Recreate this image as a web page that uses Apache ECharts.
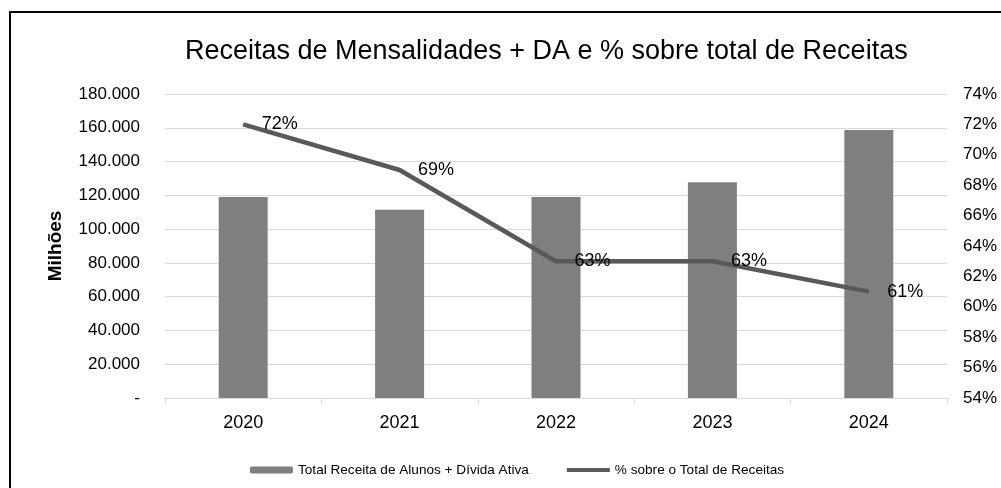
<!DOCTYPE html>
<html>
<head>
<meta charset="utf-8">
<script src="https://cdn.jsdelivr.net/npm/echarts@6/dist/echarts.min.js"></script>
<style>
  html, body { margin: 0; padding: 0; background: #fff; }
</style>
</head>
<body>
<div id="main" style="width:1001px;height:488px;"></div>
<script>
// dados
var anos = ['2020', '2021', '2022', '2023', '2024'];
var receitaAlunos = [119000, 111500, 119000, 127800, 158700];   // Milhões
var pctReceitas = [72, 69, 63, 63, 61];                          // %
var nomeBarra = 'Total Receita de Alunos + Dívida Ativa';
var nomeLinha = '% sobre o Total de Receitas';

var fonte = '"Liberation Sans", Arial, sans-serif';

function formatoBR(v) {
  if (v === 0) return '-';
  return String(v).replace(/\B(?=(\d{3})+(?!\d))/g, '.');
}

var myChart = echarts.init(document.getElementById('main'));
var option = {
  animation: false,
  backgroundColor: '#fff',
  title: {
    text: 'Receitas de Mensalidades + DA e % sobre total de Receitas',
    left: 180,
    top: 33,
    textStyle: { fontFamily: fonte, fontSize: 27, fontWeight: 'normal', color: '#000' }
  },
  graphic: [{
    type: 'polyline',
    shape: { points: [[10, 488], [10, 12], [1001, 12]] },
    style: { stroke: '#000', lineWidth: 2, fill: null }
  }],
  grid: { left: 165, right: 54, top: 94, bottom: 90 },
  legend: {
    bottom: 6,
    left: 245,
    itemWidth: 43,
    itemHeight: 7,
    itemGap: 36,
    textStyle: { fontFamily: fonte, fontSize: 13.6, color: '#000' },
    data: [
      { name: nomeBarra },
      { name: nomeLinha, itemStyle: { opacity: 0 }, lineStyle: { width: 4 } }
    ]
  },
  xAxis: {
    type: 'category',
    data: anos,
    axisLine: { lineStyle: { color: '#d9d9d9', width: 1 } },
    axisTick: { show: true, length: 6, lineStyle: { color: '#d9d9d9' } },
    axisLabel: { margin: 16, fontFamily: fonte, fontSize: 18, color: '#000' }
  },
  yAxis: [{
    type: 'value',
    name: 'Milhões',
    nameLocation: 'middle',
    nameGap: 100,
    nameTextStyle: { fontFamily: fonte, fontSize: 19, fontWeight: 'bold', color: '#000' },
    min: 0,
    max: 180000,
    interval: 20000,
    axisLine: { show: false },
    axisTick: { show: false },
    axisLabel: { margin: 25, fontFamily: fonte, fontSize: 17, color: '#000', formatter: formatoBR },
    splitLine: { lineStyle: { color: '#d9d9d9', width: 1 } }
  }, {
    type: 'value',
    min: 54,
    max: 74,
    interval: 2,
    axisLine: { show: false },
    axisTick: { show: false },
    axisLabel: { margin: 16, fontFamily: fonte, fontSize: 17, color: '#000', formatter: '{value}%' },
    splitLine: { show: false }
  }],
  series: [{
    name: nomeBarra,
    type: 'bar',
    data: receitaAlunos,
    barWidth: 49,
    itemStyle: { color: '#7f7f7f' }
  }, {
    name: nomeLinha,
    type: 'line',
    yAxisIndex: 1,
    data: pctReceitas,
    symbol: 'circle',
    symbolSize: 1,
    itemStyle: { color: '#595959' },
    lineStyle: { color: '#595959', width: 4.5 },
    label: {
      show: true,
      position: 'right',
      distance: 18,
      fontFamily: fonte,
      fontSize: 18,
      color: '#000',
      formatter: '{c}%'
    }
  }]
};
myChart.setOption(option);
</script>
</body>
</html>
